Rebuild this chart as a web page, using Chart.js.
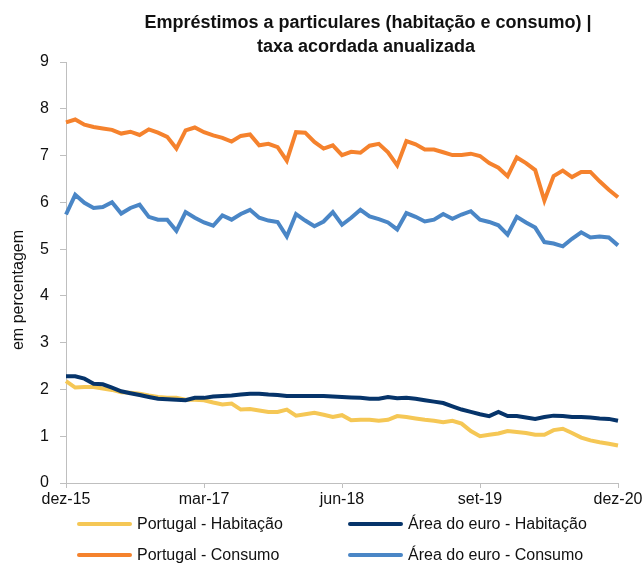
<!DOCTYPE html>
<html>
<head>
<meta charset="utf-8">
<script src="https://cdn.jsdelivr.net/npm/chart.js@4/dist/chart.umd.min.js"></script>
<style>
  body { margin: 0; background: #fff; }
  #wrap { position: relative; width: 642px; height: 564px; }
  .leg { position: absolute; font: 16px "Liberation Sans", Arial, sans-serif; color: #111; white-space: nowrap; }
  .leg i { display: inline-block; width: 55px; height: 4px; vertical-align: middle; margin-right: 5px; border-radius: 2px; position: relative; top: -1px; }
</style>
</head>
<body>
<div id="wrap">
  <canvas id="chart"></canvas>
  <div id="legend"></div>
</div>
<script>
// Chart data
const titleLines = ['Empréstimos a particulares (habitação e consumo) |', 'taxa acordada anualizada'];
const yTitle = 'em percentagem';

const months = [
  'dez-15',
  'jan-16', 'fev-16', 'mar-16', 'abr-16', 'mai-16', 'jun-16', 'jul-16', 'ago-16', 'set-16', 'out-16', 'nov-16', 'dez-16',
  'jan-17', 'fev-17', 'mar-17', 'abr-17', 'mai-17', 'jun-17', 'jul-17', 'ago-17', 'set-17', 'out-17', 'nov-17', 'dez-17',
  'jan-18', 'fev-18', 'mar-18', 'abr-18', 'mai-18', 'jun-18', 'jul-18', 'ago-18', 'set-18', 'out-18', 'nov-18', 'dez-18',
  'jan-19', 'fev-19', 'mar-19', 'abr-19', 'mai-19', 'jun-19', 'jul-19', 'ago-19', 'set-19', 'out-19', 'nov-19', 'dez-19',
  'jan-20', 'fev-20', 'mar-20', 'abr-20', 'mai-20', 'jun-20', 'jul-20', 'ago-20', 'set-20', 'out-20', 'nov-20', 'dez-20'
];
const shownTicks = ['dez-15', 'mar-17', 'jun-18', 'set-19', 'dez-20'];

const ptHabitacao = [
  2.18, 2.04, 2.05, 2.05, 2.02, 1.99, 1.94, 1.93, 1.91, 1.87, 1.84, 1.82, 1.82, 1.78, 1.78, 1.77,
  1.72, 1.68, 1.70, 1.57, 1.58, 1.55, 1.52, 1.52, 1.57, 1.44, 1.47, 1.50, 1.46, 1.41, 1.45,
  1.34, 1.35, 1.35, 1.33, 1.35, 1.43, 1.41, 1.38, 1.35, 1.33, 1.30, 1.33, 1.27, 1.11, 1.00,
  1.03, 1.06, 1.11, 1.09, 1.07, 1.03, 1.03, 1.13, 1.16, 1.07, 0.97, 0.91, 0.87, 0.84, 0.80
];
const euHabitacao = [
  2.28, 2.28, 2.23, 2.12, 2.11, 2.04, 1.96, 1.92, 1.88, 1.84, 1.80, 1.79, 1.78, 1.77, 1.82, 1.82,
  1.85, 1.86, 1.87, 1.89, 1.91, 1.91, 1.89, 1.88, 1.86, 1.86, 1.86, 1.86, 1.86, 1.85, 1.84,
  1.83, 1.82, 1.80, 1.80, 1.84, 1.81, 1.82, 1.80, 1.77, 1.74, 1.71, 1.64, 1.57, 1.52, 1.47,
  1.43, 1.52, 1.43, 1.43, 1.40, 1.37, 1.41, 1.44, 1.43, 1.41, 1.41, 1.40, 1.38, 1.37, 1.33
];
const ptConsumo = [
  7.71, 7.77, 7.66, 7.61, 7.58, 7.55, 7.47, 7.51, 7.44, 7.56, 7.49, 7.40, 7.15, 7.54, 7.60, 7.50,
  7.43, 7.38, 7.30, 7.42, 7.45, 7.22, 7.25, 7.18, 6.89, 7.50, 7.49, 7.29, 7.15, 7.22, 7.01,
  7.08, 7.06, 7.21, 7.25, 7.07, 6.79, 7.31, 7.24, 7.13, 7.13, 7.07, 7.01, 7.01, 7.04, 6.99,
  6.84, 6.74, 6.56, 6.96, 6.84, 6.69, 6.04, 6.56, 6.68, 6.54, 6.65, 6.65, 6.45, 6.27, 6.11
];
const euConsumo = [
  5.74, 6.16, 5.99, 5.88, 5.90, 6.00, 5.76, 5.88, 5.95, 5.69, 5.63, 5.63, 5.39, 5.79, 5.67, 5.57,
  5.50, 5.72, 5.63, 5.75, 5.84, 5.67, 5.61, 5.58, 5.27, 5.75, 5.61, 5.49, 5.59, 5.79, 5.52,
  5.67, 5.84, 5.70, 5.64, 5.57, 5.42, 5.77, 5.69, 5.59, 5.63, 5.75, 5.65, 5.74, 5.81, 5.63,
  5.58, 5.51, 5.31, 5.69, 5.57, 5.46, 5.15, 5.12, 5.06, 5.22, 5.36, 5.25, 5.27, 5.25, 5.08
];

const seriesNames = ['Portugal - Habitação', 'Área do euro - Habitação', 'Portugal - Consumo', 'Área do euro - Consumo'];
const seriesColors = ['#F5C755', '#06346A', '#F5822D', '#4A86C6'];

const fontFamily = '"Liberation Sans", Arial, sans-serif';
const axisColor = '#bfbfbf';

// Title and rotated y-axis title, drawn on the canvas
const textPlugin = {
  id: 'textPlugin',
  afterDraw(chart) {
    const ctx = chart.ctx;
    ctx.save();
    ctx.fillStyle = '#111';
    ctx.textAlign = 'center';
    ctx.textBaseline = 'middle';
    ctx.font = 'bold 18px ' + fontFamily;
    ctx.fillText(titleLines[0], 368, 23);
    ctx.fillText(titleLines[1], 366, 47);

    ctx.font = '16px ' + fontFamily;
    ctx.translate(19, 290);
    ctx.rotate(-Math.PI / 2);
    ctx.fillText(yTitle, 0, 0);
    ctx.restore();
  }
};

const datasets = [ptHabitacao, euHabitacao, ptConsumo, euConsumo].map((values, i) => ({
  label: seriesNames[i],
  data: values,
  borderColor: seriesColors[i],
  backgroundColor: seriesColors[i],
  borderWidth: 4,
  pointRadius: 0,
  tension: 0,
  order: i === 1 ? 0 : i + 1
}));

new Chart(document.getElementById('chart'), {
  type: 'line',
  data: { labels: months, datasets: datasets },
  options: {
    responsive: true,
    maintainAspectRatio: false,
    animation: false,
    layout: { padding: { top: 62, right: 24, left: 0, bottom: 0 } },
    plugins: {
      legend: { display: false },
      title: { display: false },
      tooltip: { enabled: false }
    },
    scales: {
      x: {
        offset: false,
        afterFit: scale => {
          scale.height = 81;
          // let the last label run to the canvas edge, like the original
          scale.paddingLeft = 0;
          scale.paddingRight = 0;
        },
        border: { color: axisColor, width: 1 },
        grid: {
          drawOnChartArea: false,
          drawTicks: true,
          tickLength: 5,
          tickColor: c => (shownTicks.includes(months[c.index]) ? axisColor : 'transparent')
        },
        ticks: {
          autoSkip: false,
          maxRotation: 0,
          padding: 2,
          color: '#111',
          font: { size: 16, family: fontFamily },
          callback: (v, i) => (shownTicks.includes(months[i]) ? months[i] : '')
        }
      },
      y: {
        min: 0,
        max: 9,
        afterFit: scale => { scale.width = 66; },
        border: { color: axisColor, width: 1 },
        grid: {
          drawOnChartArea: false,
          drawTicks: true,
          tickLength: 6,
          tickColor: axisColor
        },
        ticks: {
          stepSize: 1,
          padding: 11,
          color: '#111',
          font: { size: 16, family: fontFamily }
        }
      }
    }
  },
  plugins: [textPlugin]
});

// Two-column legend under the chart
const legendSpots = [[77, 525], [348, 525], [77, 556], [348, 556]];
const legendEl = document.getElementById('legend');
seriesNames.forEach((name, i) => {
  const item = document.createElement('div');
  item.className = 'leg';
  item.style.left = legendSpots[i][0] + 'px';
  item.style.top = (legendSpots[i][1] - 10) + 'px';
  item.innerHTML = '<i style="background:' + seriesColors[i] + '"></i>' + name;
  legendEl.appendChild(item);
});
</script>
</body>
</html>
